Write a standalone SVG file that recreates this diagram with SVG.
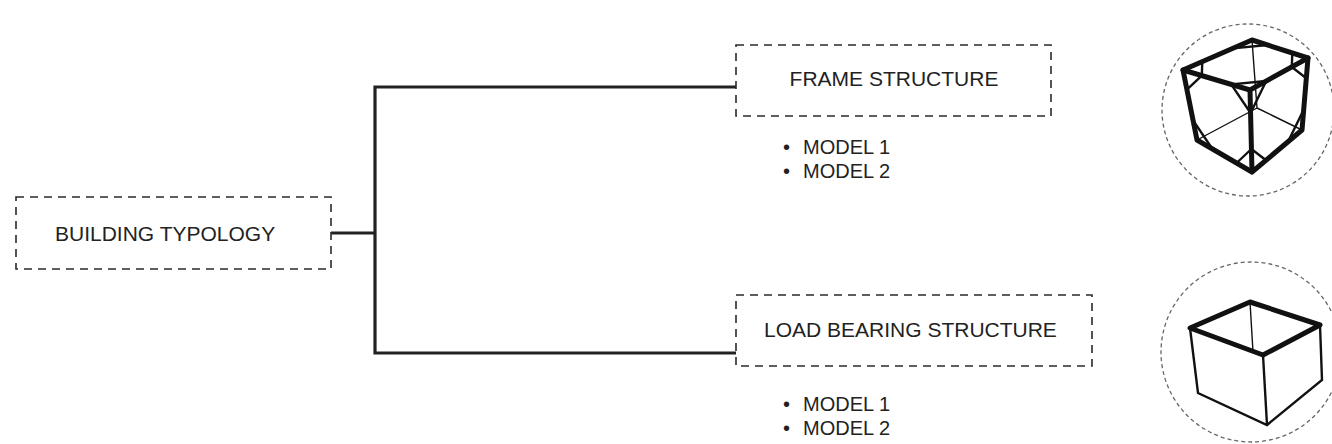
<svg xmlns="http://www.w3.org/2000/svg" width="1332" height="444" viewBox="0 0 1332 444">
  <style>
    .box { fill: none; stroke: #2a2a2a; stroke-width: 1.6; stroke-dasharray: 8 6; }
    .label { font-family: "Liberation Sans", Arial, sans-serif; font-size: 21px; fill: #222; }
    .item { font-family: "Liberation Sans", Arial, sans-serif; font-size: 20px; fill: #222; }
    .link { fill: none; stroke: #222; stroke-width: 3.2; stroke-linejoin: miter; }
    .halo { fill: none; stroke: #666; stroke-width: 1.3; stroke-dasharray: 4 3; }
    .thick { fill: none; stroke: #111; stroke-width: 5; stroke-linejoin: round; stroke-linecap: round; }
    .mid { fill: none; stroke: #111; stroke-width: 2.4; stroke-linecap: round; }
    .thin { fill: none; stroke: #111; stroke-width: 1.4; stroke-linecap: round; }
  </style>

  <rect width="1332" height="444" fill="#fff"/>

  <!-- connectors -->
  <g id="connectors">
    <path class="link" d="M331 233 H375"/>
    <path class="link" d="M736 87 H375 V353 H736"/>
  </g>

  <!-- root node -->
  <g id="building-typology">
    <rect class="box" x="16" y="197" width="315" height="72"/>
    <text class="label" x="55" y="241">BUILDING TYPOLOGY</text>
  </g>

  <!-- frame structure -->
  <g id="frame-structure">
    <rect class="box" x="736" y="45" width="315" height="71"/>
    <text class="label" x="894" y="86" text-anchor="middle">FRAME STRUCTURE</text>
    <text class="item" y="154"><tspan x="783">•</tspan><tspan x="803">MODEL 1</tspan></text>
    <text class="item" y="178"><tspan x="783">•</tspan><tspan x="803">MODEL 2</tspan></text>
  </g>

  <!-- load bearing structure -->
  <g id="load-bearing-structure">
    <rect class="box" x="736" y="295" width="356" height="71"/>
    <text class="label" x="764" y="337">LOAD BEARING STRUCTURE</text>
    <text class="item" y="411"><tspan x="783">•</tspan><tspan x="803">MODEL 1</tspan></text>
    <text class="item" y="435"><tspan x="783">•</tspan><tspan x="803">MODEL 2</tspan></text>
  </g>

  <!-- braced frame cube -->
  <g id="frame-icon">
    <circle class="halo" cx="1248" cy="110" r="86"/>
    <!-- hidden edges -->
    <path class="thin" d="M1257 108 L1197 140 M1257 108 L1302 130 M1257 108 L1252 40"/>
    <!-- knee braces -->
    <path class="mid" d="M1267.7 45 L1232.7 48.4 M1292.3 53 L1291.8 67 M1266.2 81 L1231.2 84.4 M1201.8 75.6 L1202.3 61.6
                         M1201.8 75.6 L1186.9 89.6 M1231.2 84.4 L1250.6 113 M1251.4 149 L1236.6 163 M1212.4 149 L1193.1 120.4
                         M1266.2 81 L1250.6 113 M1291.8 67 L1306.3 78.2 M1303.7 109.8 L1288 141.8 M1266 160.2 L1251.4 149"/>
    <!-- outline and front edges -->
    <path class="thick" d="M1252 40 L1308 58 L1302 130 L1252 172 L1197 140 L1183 70 Z"/>
    <path class="thick" d="M1183 70 L1250 90 L1308 58 M1250 90 L1252 172"/>
  </g>

  <!-- open box -->
  <g id="load-bearing-icon">
    <circle class="halo" cx="1251" cy="352" r="90"/>
    <path class="thin" d="M1250 302 L1253 352"/>
    <path class="mid" d="M1190 328 L1198 393 L1267 425 L1322 380 L1320 325 M1263 355 L1267 425"/>
    <path class="thick" d="M1190 328 L1250 302 L1320 325 L1263 355 Z"/>
  </g>
</svg>
